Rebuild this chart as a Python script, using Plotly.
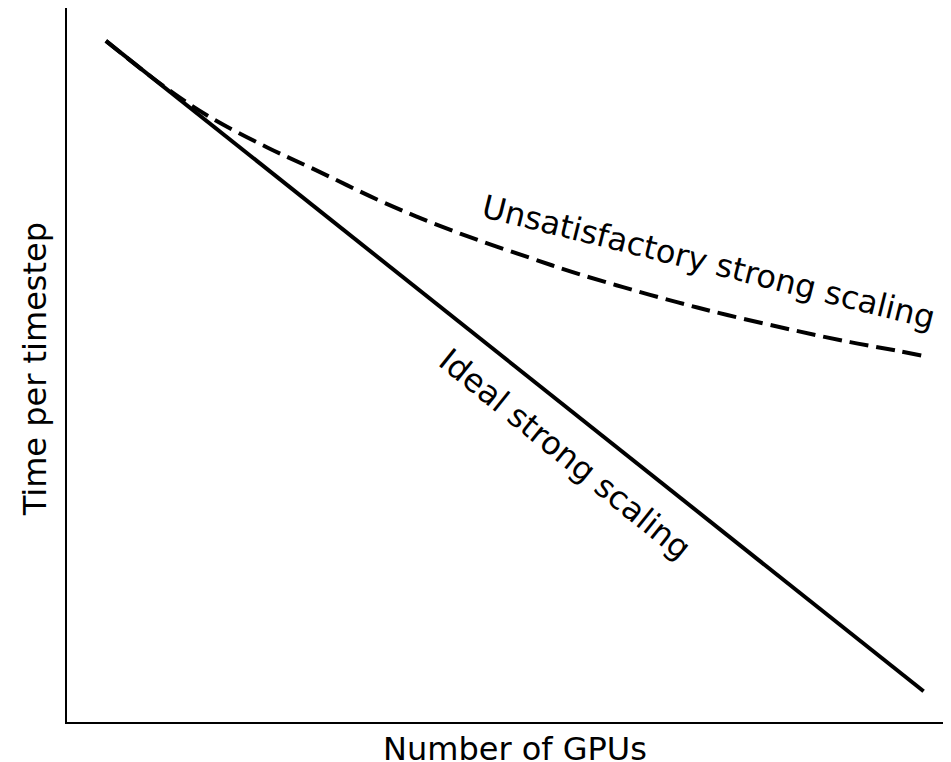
import plotly.graph_objects as go

# Conceptual strong-scaling chart (arbitrary units)
ideal_x = [4.4, 96.9]
ideal_y = [95.4, 4.3]

unsat_x = [4.4, 11.2, 16.2, 22.6, 27.8, 35.4, 41.1, 46.7, 52.4, 57.2, 62.9,
           69.0, 74.7, 82.1, 88.6, 93.9, 96.8]
unsat_y = [95.4, 88.8, 84.7, 80.5, 77.5, 73.0, 70.0, 67.4, 65.0, 63.0, 60.9,
           58.8, 57.0, 54.9, 53.2, 52.0, 51.3]

labels = ["Ideal strong scaling", "Unsatisfactory strong scaling"]
x_title = "Number of GPUs"
y_title = "Time per timestep"

FONT = "DejaVu Sans"

fig = go.Figure()
fig.add_trace(go.Scatter(
    x=ideal_x, y=ideal_y, mode="lines",
    line=dict(color="black", width=4), name=labels[0], showlegend=False,
))
fig.add_trace(go.Scatter(
    x=unsat_x, y=unsat_y, mode="lines", line_shape="spline",
    line=dict(color="black", width=4, dash="19px,8px"), name=labels[1],
    showlegend=False,
))

fig.add_annotation(
    x=(708 - 67) / 8.84, y=(722 - 262) / 7.14, xref="x", yref="y",
    text=labels[1], showarrow=False, textangle=14,
    font=dict(family=FONT, size=32, color="black"),
    xanchor="center", yanchor="middle",
)
fig.add_annotation(
    x=(565 - 67) / 8.84, y=(722 - 454) / 7.14, xref="x", yref="y",
    text=labels[0], showarrow=False, textangle=39,
    font=dict(family=FONT, size=32, color="black"),
    xanchor="center", yanchor="middle",
)

# axis titles placed as annotations for exact positioning
fig.add_annotation(
    x=0.507, y=0, xref="paper", yref="paper", yshift=-27,
    text=x_title, showarrow=False,
    font=dict(family=FONT, size=32, color="black"),
    xanchor="center", yanchor="middle",
)
fig.add_annotation(
    x=0, y=0.494, xref="paper", yref="paper", xshift=-32,
    text=y_title, showarrow=False, textangle=-90,
    font=dict(family=FONT, size=32, color="black"),
    xanchor="center", yanchor="middle",
)

fig.update_xaxes(
    range=[0, 100], showgrid=False, zeroline=False, showticklabels=False,
    ticks="", showline=True, linecolor="black", linewidth=2,
)
fig.update_yaxes(
    range=[0, 100], showgrid=False, zeroline=False, showticklabels=False,
    ticks="", showline=True, linecolor="black", linewidth=2,
)

# the page body adds an 8px offset, so the figure is sized to fit the window
fig.update_layout(
    width=943, height=754,
    margin=dict(l=59, r=0, t=0, b=40),
    paper_bgcolor="white", plot_bgcolor="white",
    font=dict(family=FONT, color="black"),
)

fig.write_html("out.html")
